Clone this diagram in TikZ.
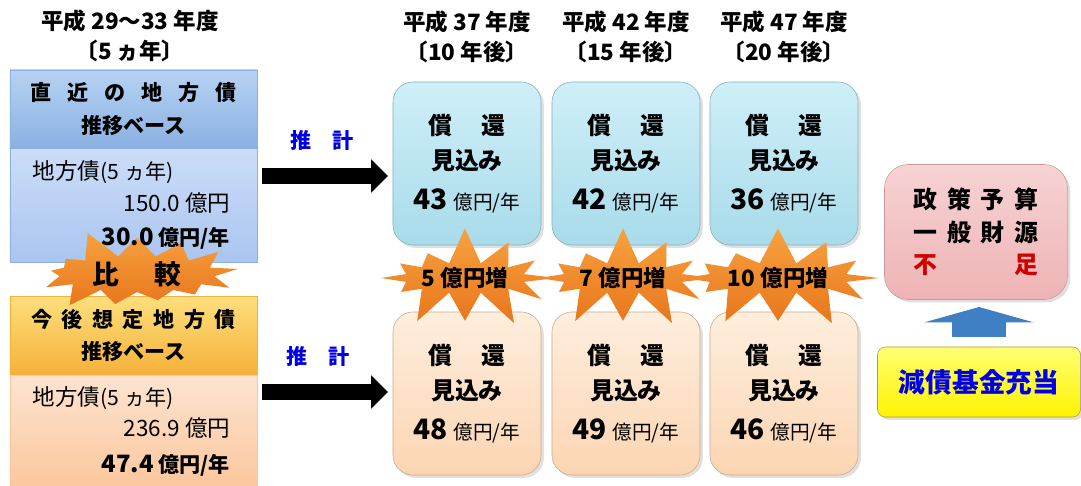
\documentclass[tikz,border=0pt]{standalone}
\usepackage{fontspec}
\setmainfont{Noto Sans CJK JP}
\usepackage{tikz}
\usetikzlibrary{arrows.meta,shapes.symbols,shadows}

\definecolor{hdblueA}{HTML}{B7D2F3}
\definecolor{hdblueB}{HTML}{8AB1E2}
\definecolor{bdblueA}{HTML}{CCDDF9}
\definecolor{bdblueB}{HTML}{AAC5F0}
\definecolor{hdorgA}{HTML}{FDDF7C}
\definecolor{hdorgB}{HTML}{F6B13A}
\definecolor{bdorgA}{HTML}{FDE4D0}
\definecolor{bdorgB}{HTML}{FBC79E}
\definecolor{cyanA}{HTML}{CFEFF8}
\definecolor{cyanB}{HTML}{A8DBEA}
\definecolor{peachA}{HTML}{FEEEDD}
\definecolor{peachB}{HTML}{FBD5B2}
\definecolor{burstA}{HTML}{F7A23F}
\definecolor{burstB}{HTML}{E8761C}
\definecolor{pinkA}{HTML}{F7D3D4}
\definecolor{pinkB}{HTML}{EEB3B5}
\definecolor{arrblue}{HTML}{3F7FC4}
\definecolor{txtblue}{HTML}{0000E6}
\definecolor{txtred}{HTML}{D00000}

\newcommand\ksp[1][0.75em]{\hspace{#1}}

\begin{document}
\begin{tikzpicture}
        [%%%%%%%%%%%%%%%%%%%%%%%%%%%%%%
        x=0.025cm, y=0.025cm,
        title/.style={align=center, font=\fontsize{16}{21}\selectfont\bfseries},
        hdbox/.style={draw, align=center, minimum width=6.175cm, minimum height=1.95cm,
          font=\fontsize{15}{23}\selectfont\bfseries},
        bdbox/.style={draw, minimum width=6.175cm},
        bdtxt/.style={font=\fontsize{16}{18}\selectfont},
        cbox/.style={draw, rounded corners=0.5cm, align=center, minimum width=3.7cm,
          minimum height=4.075cm, font=\fontsize{17}{25}\selectfont\bfseries,
          drop shadow={opacity=0.25, shadow xshift=2pt, shadow yshift=-2pt}},
        burst/.style={starburst, starburst points=12, starburst point height=0.95cm,
          random starburst=7, top color=burstA, bottom color=burstB, draw=none,
          inner sep=0pt, font=\fontsize{16}{16}\selectfont\bfseries},
        fatarr/.style={line width=11.4pt, -{Triangle[length=12pt,width=23pt]}, black},
        est/.style={font=\fontsize{15}{15}\selectfont\bfseries, text=txtblue},
        ]%%%%%%%%%%%%%%%%%%%%%%%%%%%%%%
        \useasboundingbox (0,0) rectangle (1081,-486);
        % Left side: recent and future bases
        \node[title] (yr0) at (130,-36) {平成 29〜33 年度\\〔5 ヵ年〕};
        \node[bdbox, top color=bdblueA, bottom color=bdblueB, draw=hdblueB,
          minimum height=2.85cm] (bluebd) at (133.5,-205) {};
        \node[hdbox, top color=hdblueA, bottom color=hdblueB, draw=hdblueB]
          (bluehd) at (133.5,-109) {直\ksp 近\ksp の\ksp 地\ksp 方\ksp 債\\推移ベース};
        \node[bdbox, top color=bdorgA, bottom color=bdorgB, draw=bdorgB,
          minimum height=2.775cm] (orgbd) at (133.5,-430.5) {};
        \node[hdbox, top color=hdorgA, bottom color=hdorgB, draw=hdorgB]
          (orghd) at (133.5,-335.5) {今\ksp[0.45em]後\ksp[0.45em]想\ksp[0.45em]定\ksp[0.45em]地\ksp[0.45em]方\ksp[0.45em]債\\推移ベース};

        \node[burst, minimum width=5.4cm, minimum height=1.45cm, starburst point height=0.75cm,
          starburst points=13, random starburst=5, font=\fontsize{19}{19}\selectfont\bfseries]
          (cmp) at (137,-274) {比\ksp[1.3em]較};

        % Texts of the left boxes
        \node[bdtxt, anchor=west] (bl1) at (28,-172) {地方債{\fontsize{15}{15}\selectfont(5 ヵ年)}};
        \node[bdtxt, anchor=east] (bl2) at (235,-203) {150.0 億円};
        \node[bdtxt, anchor=east, font=\fontsize{15}{18}\selectfont\bfseries] (bl3) at (235,-238)
          {{\fontsize{17}{18}\selectfont 30.0} 億円/年};
        \node[bdtxt, anchor=west] (ol1) at (28,-398) {地方債{\fontsize{15}{15}\selectfont(5 ヵ年)}};
        \node[bdtxt, anchor=east] (ol2) at (235,-428) {236.9 億円};
        \node[bdtxt, anchor=east, font=\fontsize{15}{18}\selectfont\bfseries] (ol3) at (235,-465)
          {{\fontsize{17}{18}\selectfont 47.4} 億円/年};

        % Columns of projections
        \foreach \i/\x/\yr/\aft/\up/\dn in {1/467/37/10/43/48, 2/626/42/15/42/49, 3/784/47/20/36/46}{
          \node[title] (yr\i) at (\x,-37) {平成 \yr\ 年度\\〔\aft\ 年後〕};
          \node[cbox, top color=cyanA, bottom color=cyanB, draw=cyanB!80!black] (up\i) at (\x,-163.5)
            {償\ksp[1.2em]還\\見込み\\[3pt]{\fontsize{20}{20}\selectfont\up}\ {\fontsize{14}{14}\selectfont\mdseries 億円/年}};
          \node[cbox, top color=peachA, bottom color=peachB, draw=peachB!80!black] (dn\i) at (\x,-393.5)
            {償\ksp[1.2em]還\\見込み\\[3pt]{\fontsize{20}{20}\selectfont\dn}\ {\fontsize{14}{14}\selectfont\mdseries 億円/年}};
        }
        \foreach \i/\x/\inc in {1/465/5, 2/623/7, 3/778/10}{
          \node[burst, minimum width=4.6cm, minimum height=2.6cm] (inc\i) at (\x,-278) {\inc\ 億円増};
        }

        % Arrows
        \coordinate (pa) at (262,-176);
        \coordinate (pb) at (388,-176);
        \coordinate (qa) at (262,-392);
        \coordinate (qb) at (388,-392);
        \draw[fatarr] (pa) -- (pb);
        \draw[fatarr] (qa) -- (qb);
        \node[est] (est1) at (322,-140) {推\ksp[1em]計};
        \node[est] (est2) at (318,-356) {推\ksp[1em]計};

        % Right side
        \node[draw=pinkB!85!black, rounded corners=0.6cm, top color=pinkA, bottom color=pinkB,
          minimum width=4.575cm, minimum height=3.375cm, align=left,
          font=\fontsize{17}{23}\selectfont\bfseries,
          drop shadow={opacity=0.25, shadow xshift=2pt, shadow yshift=-2pt}] (lack) at (976,-232)
          {政\ksp[0.4em]策\ksp[0.4em]予\ksp[0.4em]算\\一\ksp[0.4em]般\ksp[0.4em]財\ksp[0.4em]源\\
           \textcolor{txtred}{不}\ksp[3.2em]\textcolor{txtred}{足}};
        \node[draw=yellow!60!black, rounded corners=0.2cm, top color=yellow!55, bottom color=yellow!90!orange,
          minimum width=5.075cm, minimum height=1.75cm, text=txtblue,
          font=\fontsize{19}{19}\selectfont\bfseries,
          drop shadow={opacity=0.25, shadow xshift=2pt, shadow yshift=-2pt}] (fund) at (979,-382) {減債基金充当};
        \draw[arrblue, line width=39pt, -{Triangle[length=11pt,width=78pt]},
          shorten <=0.25cm, shorten >=0.18cm] (fund.north) -- (fund.north |- lack.south);
\end{tikzpicture}
\end{document}
